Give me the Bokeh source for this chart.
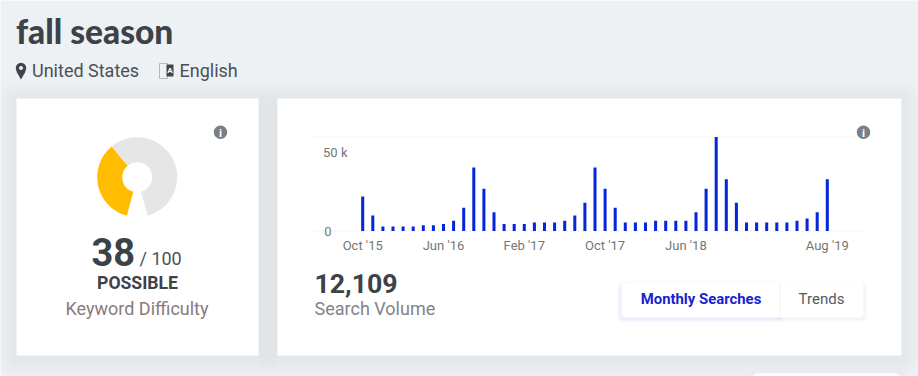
from bokeh.core.properties import value
from bokeh.embed import file_html
from bokeh.models import FixedTicker, LinearAxis, Range1d
from bokeh.plotting import figure
from bokeh.resources import INLINE
import math

# ---------- data ----------
months = ["Oct '15", "Nov '15", "Dec '15", "Jan '16", "Feb '16", "Mar '16", "Apr '16", "May '16",
          "Jun '16", "Jul '16", "Aug '16", "Sep '16", "Oct '16", "Nov '16", "Dec '16", "Jan '17",
          "Feb '17", "Mar '17", "Apr '17", "May '17", "Jun '17", "Jul '17", "Aug '17", "Sep '17",
          "Oct '17", "Nov '17", "Dec '17", "Jan '18", "Feb '18", "Mar '18", "Apr '18", "May '18",
          "Jun '18", "Jul '18", "Aug '18", "Sep '18", "Oct '18", "Nov '18", "Dec '18", "Jan '19",
          "Feb '19", "Mar '19", "Apr '19", "May '19", "Jun '19", "Jul '19", "Aug '19"]
searches = [22000, 9900, 2900, 2900, 2900, 2900, 3600, 3600,
            4400, 6600, 14800, 40500, 27000, 12000, 4400, 4400,
            4400, 5400, 5400, 5400, 6600, 9900, 18100, 40500,
            27000, 14800, 5400, 5400, 5400, 6600, 6600, 6600,
            6600, 12000, 27000, 60000, 33000, 18100, 5400, 5400,
            5400, 5400, 5400, 6600, 8000, 12000, 33000]
x_tick_months = ["Oct '15", "Jun '16", "Feb '17", "Oct '17", "Jun '18", "Aug '19"]
y_ticks = [0, 50000]
y_tick_labels = ["0", "50 k"]
y_grid_values = [0, 60000]
difficulty = 38
difficulty_max = 100
gauge_colors = ["#FFBC00", "#E6E6E6"]

# ---------- geometry ----------
W, H = 918, 376
BG = "#EEF1F4"
x0_px, dx_px = 362.2, 10.1      # first bar, month spacing
y0_px, top_px = 230.5, 136.5    # baseline, top grid line
per_px = max(y_grid_values) / (y0_px - top_px)

p = figure(width=W, height=H, output_backend="svg", toolbar_location=None,
           x_range=Range1d(0, W), y_range=Range1d(H, 0), min_border=0,
           background_fill_color=BG, border_fill_color=BG, outline_line_color=None)
p.styles = {"position": "absolute", "left": "0px", "top": "0px"}
p.xaxis.visible = False
p.yaxis.visible = False
p.grid.visible = False
p.extra_x_ranges["months"] = Range1d(-x0_px / dx_px, (W - x0_px) / dx_px)
p.extra_y_ranges["volume"] = Range1d((y0_px - H) * per_px, y0_px * per_px)


def card(l, t, r, b, shadow_steps=10, shadow=0.006, radius=0):
    for i in range(shadow_steps, 0, -1):
        s = i * 2
        p.quad(left=l - s, right=r + s, top=t - s + 2, bottom=b + s + 2,
               fill_color="#5A6A80", fill_alpha=shadow, line_color=None, border_radius=s)
    p.quad(left=l, right=r, top=t, bottom=b, fill_color="white", line_color=None, border_radius=radius)


card(16, 98, 258, 355)
card(277, 98, 901, 355)
card(751, 373, 901, 400, shadow_steps=3, radius=6)

# ---------- gauge ----------
gap = 30.0
sweep = 360.0 - gap
frac = difficulty / difficulty_max
a0 = math.radians(90 - (180 + gap / 2))
a1 = a0 - math.radians(sweep * frac)
a2 = a0 - math.radians(sweep)
p.annular_wedge(x=136.7, y=176.7, inner_radius=15, outer_radius=40, inner_radius_units="screen",
                outer_radius_units="screen", start_angle=[a0, a1], end_angle=[a1, a2],
                direction="clock", fill_color=gauge_colors, line_color=None)

# ---------- bar chart ----------
idx = list(range(len(months)))
gx0 = (313 - x0_px) / dx_px
gx1 = (863 - x0_px) / dx_px
p.segment(x0=[gx0] * len(y_grid_values), x1=[gx1] * len(y_grid_values), y0=y_grid_values, y1=y_grid_values,
          x_range_name="months", y_range_name="volume", line_color="#E9E9E9", line_width=1, line_dash="2 2")
p.vbar(x=idx, top=searches, bottom=0, width=0.3, x_range_name="months", y_range_name="volume",
       fill_color="#0527D8", line_color=None)

xa = LinearAxis(x_range_name="months", fixed_location=y0_px,
                ticker=FixedTicker(ticks=[months.index(m) for m in x_tick_months]),
                major_label_overrides={months.index(m): m for m in x_tick_months})
# one axis per y tick: the labels are left-aligned in the reference
ya_zero = LinearAxis(y_range_name="volume", fixed_location=313, ticker=FixedTicker(ticks=y_ticks[:1]),
                     major_label_overrides=dict(zip(y_ticks, y_tick_labels)))
ya_top = LinearAxis(y_range_name="volume", fixed_location=313, ticker=FixedTicker(ticks=y_ticks[1:]),
                    major_label_overrides=dict(zip(y_ticks, y_tick_labels)))
for ax in (xa, ya_zero, ya_top):
    ax.axis_line_color = None
    ax.major_tick_line_color = None
    ax.minor_tick_line_color = None
    ax.major_label_text_font = "Roboto"
    ax.major_label_text_font_size = "13px"
    ax.major_label_text_color = "#767676"
xa.major_label_standoff = 1
ya_zero.major_label_standoff = -24
ya_top.major_label_standoff = -40
p.add_layout(xa, "below")
p.add_layout(ya_zero, "left")
p.add_layout(ya_top, "left")

# ---------- buttons ----------
for i in range(4, 0, -1):
    p.quad(left=621 - i, right=779 + i, top=282 - i + 3, bottom=317 + i + 1,
           fill_color="#2A3CE0", fill_alpha=0.022, line_color=None, border_radius=5)
    p.quad(left=779 - i, right=863 + i, top=282 - i + 3, bottom=317 + i + 1,
           fill_color="#50586A", fill_alpha=0.018, line_color=None, border_radius=5)
p.quad(left=621, right=863, top=282, bottom=317, fill_color="white", line_color=None, border_radius=4)
p.segment(x0=779.5, x1=779.5, y0=282, y1=317, line_color="#F0F0F0", line_width=1)


def txt(x, y, s, size, color, font="Roboto", style="normal", align="left"):
    p.text(x=[x], y=[y], text=[s], text_font=value(font), text_font_size=f"{size}px",
           text_font_style=style, text_color=color, text_align=align, text_baseline="middle")


txt(15.5, 30.5, "fall season", 33.5, "#3C4248", font="Lato Black")
txt(31.5, 70, "United States", 18, "#4A5058")
txt(179, 70, "English", 18, "#4A5058")
txt(91, 251, str(difficulty), 38, "#3C4248", style="bold")
txt(139, 258, f"/ {difficulty_max}", 18, "#4A5058")
txt(137, 282, "POSSIBLE", 17.6, "#3C4248", style="bold", align="center")
txt(136.5, 308, "Keyword Difficulty", 18, "#8A7A7A", align="center")
txt(314, 283, "12,109", 26.7, "#3C4248", style="bold")
txt(314, 308, "Search Volume", 18, "#808488")
txt(700.5, 298, "Monthly Searches", 14.9, "#1A1FD2", style="bold", align="center")
txt(821, 298, "Trends", 15, "#555A62", align="center")

# ---------- icons ----------
for cx in (220, 863):
    p.scatter(x=[cx], y=[131.7], size=13.5, marker="circle", fill_color="#7A7F86", line_color=None)
    txt(cx, 132, "i", 11.5, "white", style="bold", align="center")
p.scatter(x=[20.5], y=[67.5], size=10.5, marker="circle", fill_color="#3F454C", line_color=None)
p.scatter(x=[20.5], y=[73.5], size=9.5, marker="inverted_triangle", fill_color="#3F454C", line_color=None)
p.scatter(x=[20.5], y=[67.5], size=4, marker="circle", fill_color=BG, line_color=None)
p.quad(left=159, right=167, top=63, bottom=78, fill_color=BG, line_color="#B5B8BC", line_width=1)
p.quad(left=166, right=173, top=64, bottom=76, fill_color="#3F454C", line_color=None)
txt(169.5, 70, "A", 8, "white", style="bold", align="center")

open("out.html", "w").write(file_html(p, INLINE))
